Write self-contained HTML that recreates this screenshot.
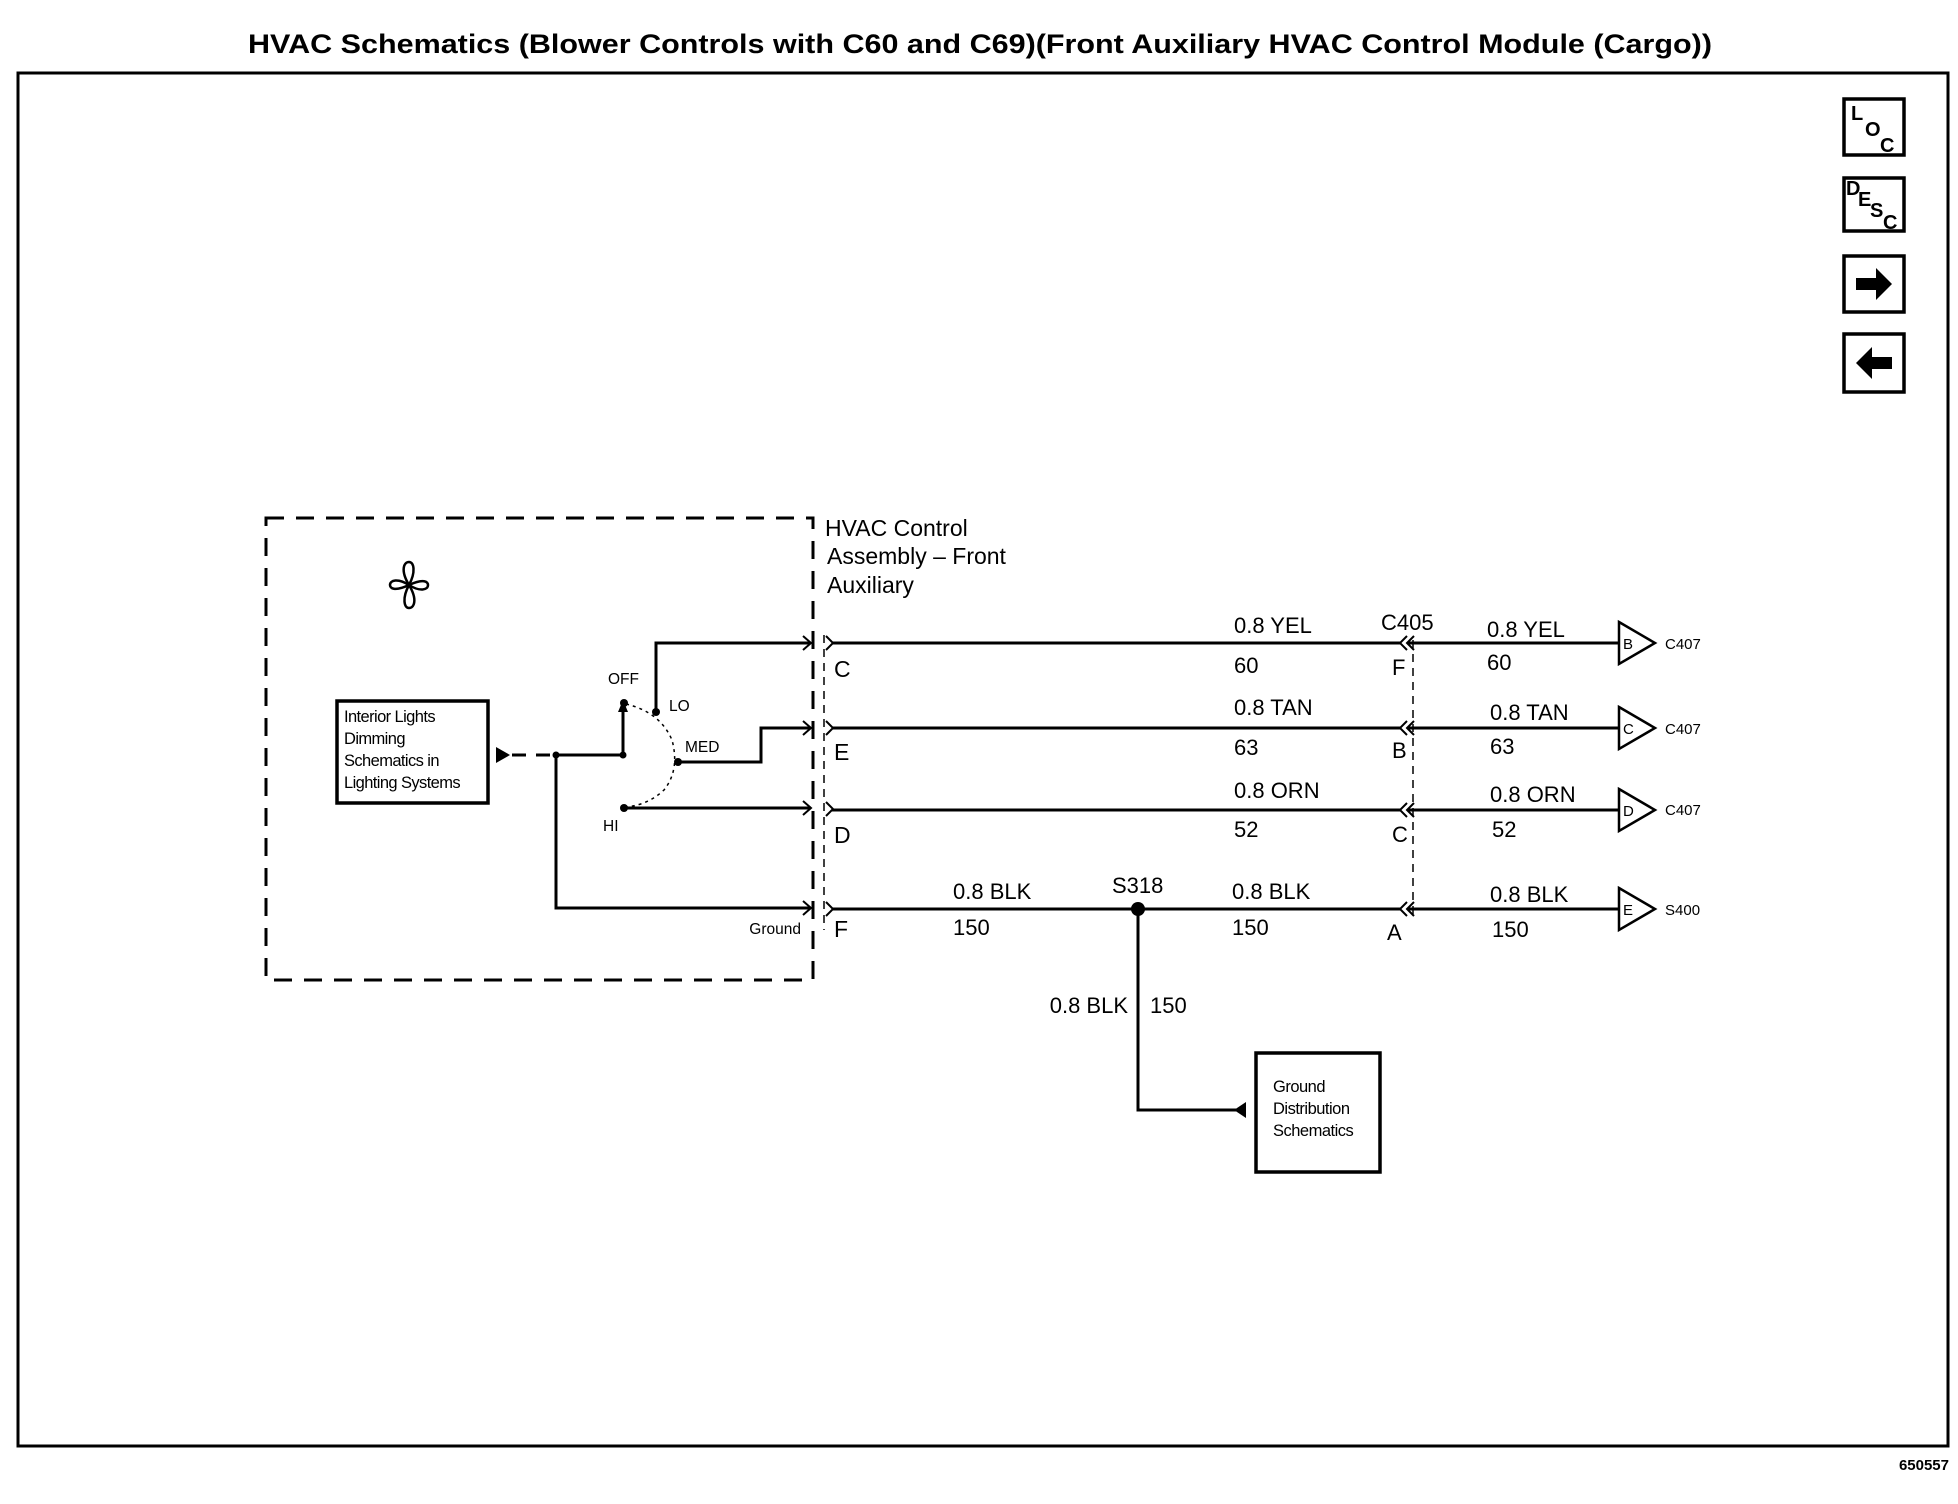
<!DOCTYPE html>
<html><head><meta charset="utf-8"><style>
html,body{margin:0;padding:0;background:#fff;}
svg{display:block;}
text{font-family:"Liberation Sans",Arial,sans-serif;fill:#000;}
</style></head><body>
<svg width="1958" height="1504" viewBox="0 0 1958 1504" xmlns="http://www.w3.org/2000/svg">
<rect width="1958" height="1504" fill="#fff"/>
<text x="980" y="53" font-size="27" font-weight="bold" text-anchor="middle" textLength="1464" lengthAdjust="spacingAndGlyphs">HVAC Schematics (Blower Controls with C60 and C69)(Front Auxiliary HVAC Control Module (Cargo))</text>
<rect x="18" y="73" width="1930" height="1373" fill="none" stroke="#000" stroke-width="3"/>
<text x="1949" y="1470" font-size="15" font-weight="bold" text-anchor="end">650557</text>

<g fill="none" stroke="#000" stroke-width="3.5">
<rect x="1844" y="99" width="60" height="56"/>
<rect x="1844" y="178" width="60" height="53"/>
<rect x="1844" y="256" width="60" height="56"/>
<rect x="1844" y="334" width="60" height="58"/>
</g>
<g font-weight="bold" font-size="20">
<text x="1851" y="120">L</text><text x="1865" y="136">O</text><text x="1880" y="152">C</text>
<text x="1846" y="195">D</text><text x="1858" y="206">E</text><text x="1870" y="217">S</text><text x="1883" y="229">C</text>
</g>
<polygon points="1856,278 1876,278 1876,268 1892,284 1876,300 1876,290 1856,290" fill="#000"/>
<polygon points="1892,357 1872,357 1872,347 1856,363 1872,379 1872,369 1892,369" fill="#000"/>

<rect x="266" y="518" width="547" height="462" fill="none" stroke="#000" stroke-width="3" stroke-dasharray="18,12"/>
<line x1="824" y1="635" x2="824" y2="930" stroke="#000" stroke-width="1.5" stroke-dasharray="8,6"/>
<line x1="1413" y1="640" x2="1413" y2="920" stroke="#000" stroke-width="1.5" stroke-dasharray="8,6"/>

<g fill="none" stroke="#000" stroke-width="2.5">
<path d="M409,585 C400,570 404,562 409,562 C414,562 416,572 409,585 Z"/>
<path d="M409,585 C418,600 414,608 409,608 C404,608 402,598 409,585 Z"/>
<path d="M409,585 C394,592 390,588 390,585 C390,580 398,578 409,585 Z"/>
<path d="M409,585 C424,578 428,582 428,585 C428,590 420,592 409,585 Z"/>
</g>

<rect x="337" y="701" width="151" height="102" fill="none" stroke="#000" stroke-width="3.5"/>
<g font-size="16.5" letter-spacing="-0.6">
<text x="344" y="722">Interior Lights</text>
<text x="344" y="744">Dimming</text>
<text x="344" y="766">Schematics in</text>
<text x="344" y="788">Lighting Systems</text>
</g>
<polygon points="496,747 510,755 496,763" fill="#000"/>
<line x1="512" y1="755" x2="556" y2="755" stroke="#000" stroke-width="3" stroke-dasharray="14,10"/>

<g stroke="#000" stroke-width="3" fill="none">
<polyline points="556,755 623,755 623,705"/>
<polyline points="656,712 656,643 811,643"/>
<polyline points="678,762 761,762 761,728 811,728"/>
<polyline points="624,808 811,808"/>
<polyline points="556,755 556,908 811,908"/>
<polyline points="803,636 811,643 803,650" stroke-width="2"/>
<polyline points="803,721 811,728 803,735" stroke-width="2"/>
<polyline points="803,801 811,808 803,815" stroke-width="2"/>
<polyline points="803,901 811,908 803,915" stroke-width="2"/>
<polyline points="826,636 833,643 826,650" stroke-width="2"/>
<polyline points="826,721 833,728 826,735" stroke-width="2"/>
<polyline points="826,802 833,809 826,816" stroke-width="2"/>
<polyline points="826,902 833,909 826,916" stroke-width="2"/>
<line x1="832" y1="643" x2="1400" y2="643"/>
<line x1="832" y1="728" x2="1400" y2="728"/>
<line x1="832" y1="810" x2="1400" y2="810"/>
<line x1="832" y1="909" x2="1400" y2="909"/>
<line x1="1408" y1="643" x2="1620" y2="643"/>
<line x1="1408" y1="728" x2="1620" y2="728"/>
<line x1="1408" y1="810" x2="1620" y2="810"/>
<line x1="1408" y1="909" x2="1620" y2="909"/>
<g stroke-width="2">
<polyline points="1407,636 1400,643 1407,650"/><polyline points="1414,636 1407,643 1414,650"/>
<polyline points="1407,721 1400,728 1407,735"/><polyline points="1414,721 1407,728 1414,735"/>
<polyline points="1407,803 1400,810 1407,817"/><polyline points="1414,803 1407,810 1414,817"/>
<polyline points="1407,902 1400,909 1407,916"/><polyline points="1414,902 1407,909 1414,916"/>
</g>
<g stroke-width="2.5">
<polygon points="1619,622 1655,643 1619,664"/>
<polygon points="1619,707 1655,728 1619,749"/>
<polygon points="1619,789 1655,810 1619,831"/>
<polygon points="1619,888 1655,909 1619,930"/>
</g>
<polyline points="1138,909 1138,1110 1236,1110"/>
<rect x="1256" y="1053" width="124" height="119" stroke-width="3.5"/>
</g>
<polygon points="1246,1102 1234,1110 1246,1118" fill="#000"/>
<circle cx="1138" cy="909" r="7" fill="#000"/>

<polygon points="618,712 623,700 628,712" fill="#000"/>
<circle cx="624" cy="703" r="4" fill="#000"/>
<circle cx="656" cy="712" r="4" fill="#000"/>
<circle cx="678" cy="762" r="4" fill="#000"/>
<circle cx="624" cy="808" r="4" fill="#000"/>
<circle cx="556" cy="755" r="3.5" fill="#000"/>
<circle cx="623" cy="755" r="3.5" fill="#000"/>
<path d="M626,704 Q660,712 672,740 Q680,770 664,790 Q648,805 626,807" fill="none" stroke="#000" stroke-width="1.5" stroke-dasharray="3,4"/>
<g font-size="15.5">
<text x="608" y="684">OFF</text>
<text x="669" y="711">LO</text>
<text x="685" y="752">MED</text>
<text x="603" y="831">HI</text>
<text x="801" y="934" text-anchor="end">Ground</text>
</g>

<g font-size="23">
<text x="825" y="536">HVAC Control</text>
<text x="827" y="564">Assembly – Front</text>
<text x="827" y="593">Auxiliary</text>
<text x="834" y="677">C</text>
<text x="834" y="760">E</text>
<text x="834" y="843">D</text>
<text x="834" y="937">F</text>
</g>

<g font-size="22">
<text x="1234" y="633">0.8 YEL</text><text x="1234" y="673">60</text>
<text x="1234" y="715">0.8 TAN</text><text x="1234" y="755">63</text>
<text x="1234" y="798">0.8 ORN</text><text x="1234" y="837">52</text>
<text x="953" y="899">0.8 BLK</text><text x="953" y="935">150</text>
<text x="1112" y="893">S318</text>
<text x="1232" y="899">0.8 BLK</text><text x="1232" y="935">150</text>
<text x="1381" y="630">C405</text>
<text x="1392" y="675">F</text>
<text x="1392" y="758">B</text>
<text x="1392" y="842">C</text>
<text x="1387" y="940">A</text>
<text x="1487" y="637">0.8 YEL</text><text x="1487" y="670">60</text>
<text x="1490" y="720">0.8 TAN</text><text x="1490" y="754">63</text>
<text x="1490" y="802">0.8 ORN</text><text x="1492" y="837">52</text>
<text x="1490" y="902">0.8 BLK</text><text x="1492" y="937">150</text>
<text x="1128" y="1013" text-anchor="end">0.8 BLK</text><text x="1150" y="1013">150</text>
</g>
<g font-size="15">
<text x="1623" y="649">B</text><text x="1623" y="734">C</text><text x="1623" y="816">D</text><text x="1623" y="915">E</text>
<text x="1665" y="649">C407</text><text x="1665" y="734">C407</text><text x="1665" y="815">C407</text><text x="1665" y="915">S400</text>
</g>
<g font-size="16.5" letter-spacing="-0.5">
<text x="1273" y="1092">Ground</text>
<text x="1273" y="1114">Distribution</text>
<text x="1273" y="1136">Schematics</text>
</g>
</svg>
</body></html>
